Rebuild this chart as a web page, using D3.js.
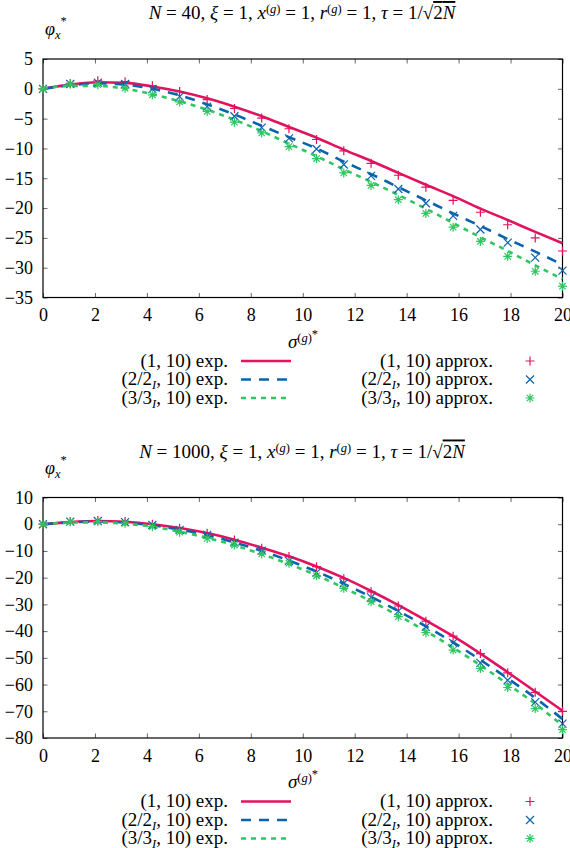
<!DOCTYPE html>
<html>
<head>
<meta charset="utf-8">
<script src="https://cdn.jsdelivr.net/npm/d3@7"></script>
<style>
  body { margin: 0; background: #fff; }
  svg text { font-family: "Liberation Serif", serif; font-size: 18px; fill: #000; }
  svg text.big { font-size: 19px; }
</style>
</head>
<body>
<svg id="chart" width="570" height="848"></svg>
<script>
// x positions of the samples (sigma^(g)*)
const sigmaValues = [0, 1.05, 2.11, 3.16, 4.21, 5.26, 6.32, 7.37, 8.42, 9.47,
  10.53, 11.58, 12.63, 13.68, 14.74, 15.79, 16.84, 17.89, 18.95, 20];
const xTicks = [0, 2, 4, 6, 8, 10, 12, 14, 16, 18, 20];

// N = 40
const n40YTicks = [5, 0, -5, -10, -15, -20, -25, -30, -35];
const n40Exp1 = [0, 0.7, 1.1, 1.0, 0.4, -0.45, -1.6, -3.0, -4.6, -6.4, -8.2, -10.2, -12.1, -14.1, -16.1, -18.0, -20.1, -22.0, -24.0, -25.9];
const n40Exp2 = [0, 0.6, 0.9, 0.7, 0.0, -1.1, -2.6, -4.3, -6.2, -8.1, -10.0, -12.2, -14.3, -16.5, -18.7, -20.9, -23.0, -25.2, -27.3, -29.5];
const n40Exp3 = [0, 0.5, 0.5, 0.0, -0.9, -2.1, -3.5, -5.2, -7.1, -9.2, -11.3, -13.5, -15.6, -17.8, -20.1, -22.5, -24.9, -27.2, -29.6, -31.9];
const n40Approx1 = [0, 0.9, 1.35, 1.2, 0.5, -0.45, -1.8, -3.3, -4.9, -6.7, -8.5, -10.4, -12.5, -14.5, -16.5, -18.7, -20.7, -22.8, -25.0, -27.2];
const n40Approx2 = [0, 0.8, 1.05, 0.8, -0.05, -1.3, -3.0, -4.6, -6.5, -8.3, -10.1, -12.7, -14.6, -16.8, -19.2, -21.3, -23.6, -25.8, -28.3, -30.5];
const n40Approx3 = [0, 0.8, 0.7, 0.1, -1.0, -2.2, -3.8, -5.6, -7.4, -9.7, -11.7, -14.1, -16.2, -18.6, -20.9, -23.2, -25.6, -28.1, -30.6, -33.1];

// N = 1000
const n1000YTicks = [10, 0, -10, -20, -30, -40, -50, -60, -70, -80];
const n1000Exp1 = [0, 0.8, 1.2, 0.9, 0.0, -1.4, -3.3, -5.8, -8.8, -12.0, -15.8, -20.1, -25.0, -30.3, -36.0, -41.9, -48.4, -55.4, -62.6, -69.8];
const n1000Exp2 = [0, 0.7, 1.0, 0.6, -0.4, -2.0, -4.1, -6.8, -10.0, -13.6, -17.7, -22.3, -27.2, -32.5, -38.2, -44.2, -50.8, -57.7, -65.0, -72.9];
const n1000Exp3 = [0, 0.6, 0.7, 0.2, -0.9, -2.8, -5.1, -7.9, -11.2, -14.9, -19.1, -23.8, -28.8, -34.2, -40.0, -46.2, -52.8, -59.8, -67.2, -75.3];
const n1000Approx1 = [0, 1.0, 1.4, 1.0, 0.0, -1.5, -3.4, -5.9, -9.0, -12.1, -15.9, -20.4, -25.3, -30.6, -36.3, -41.9, -48.4, -55.6, -62.9, -70.0];
const n1000Approx2 = [0, 1.0, 1.2, 0.8, -0.3, -2.1, -4.0, -6.9, -9.9, -13.7, -18.1, -22.1, -27.4, -32.5, -38.4, -44.4, -51.9, -58.4, -66.6, -74.6];
const n1000Approx3 = [0, 0.9, 1.0, 0.4, -0.9, -3.0, -5.3, -7.8, -11.1, -14.6, -19.3, -24.0, -29.0, -34.6, -40.6, -47.1, -54.0, -61.1, -69.0, -76.9];

const colors = ['#e2125e', '#0b63ad', '#2fc55f'];
const dashes = [null, '10,8', '5,5'];

// legend labels, as [text, flags]: i italic, ^ sup, _ sub
const expLabels = [
  [['(1, 10) exp.', '']],
  [['(2/2', ''], ['I', '_i'], [', 10) exp.', '']],
  [['(3/3', ''], ['I', '_i'], [', 10) exp.', '']]
];
const approxLabels = [
  [['(1, 10) approx.', '']],
  [['(2/2', ''], ['I', '_i'], [', 10) approx.', '']],
  [['(3/3', ''], ['I', '_i'], [', 10) approx.', '']]
];
function titleParts(n) {
  return [['N', 'i'], [' = ' + n + ', ', ''], ['ξ', 'i'], [' = 1, ', ''],
    ['x', 'i'], ['(', '^'], ['g', '^i'], [')', '^'], [' = 1, ', ''],
    ['r', 'i'], ['(', '^'], ['g', '^i'], [')', '^'], [' = 1, ', ''],
    ['τ', 'i'], [' = 1/√', ''], ['2', 'o'], ['N', 'io']];
}

const panels = [
  { top: 59, bottom: 297.5, domain: [-35, 5], yTicks: n40YTicks, title: titleParts(40),
    exp: [n40Exp1, n40Exp2, n40Exp3], approx: [n40Approx1, n40Approx2, n40Approx3] },
  { top: 497.5, bottom: 738, domain: [-80, 10], yTicks: n1000YTicks, title: titleParts(1000),
    exp: [n1000Exp1, n1000Exp2, n1000Exp3], approx: [n1000Approx1, n1000Approx2, n1000Approx3] }
];

const svg = d3.select('#chart');
const left = 43, right = 562.5;

function addMath(text, parts) {
  let shift = 0;
  parts.forEach(([str, f]) => {
    const ts = text.append('tspan').text(str);
    let target = 0;
    if (f.includes('^')) target = -6;
    if (f.includes('_')) target = 4;
    if (f.includes('h')) target = -10;
    if (target !== 0) ts.style('font-size', '12.5px');
    if (f.includes('i')) ts.attr('font-style', 'italic');
    if (f.includes('o')) ts.style('text-decoration', 'overline');
    if (target !== shift) ts.attr('dy', target - shift);
    shift = target;
  });
}

const markers = [
  'M-4.5,0H4.5M0,-4.5V4.5',
  'M-4,-4L4,4M-4,4L4,-4',
  'M-4.5,0H4.5M0,-4.5V4.5M-3.2,-3.2L3.2,3.2M-3.2,3.2L3.2,-3.2'
];

panels.forEach((p, k) => {
  const g = svg.append('g');
  const x = d3.scaleLinear().domain([0, 20]).range([left, right]);
  const y = d3.scaleLinear().domain(p.domain).range([p.bottom, p.top]);

  // title and y label
  addMath(g.append('text').attr('class', 'big').attr('x', 302).attr('y', p.top - 40).attr('text-anchor', 'middle'), p.title);
  addMath(g.append('text').attr('x', 45).attr('y', p.top - 24),
    [['φ', 'i'], ['x', '_i'], ['*', 'h']]);

  // axes (ticks inward, mirrored)
  const tickColor = '#666';
  const axes = [
    g.append('g').attr('transform', `translate(0,${p.bottom})`)
      .call(d3.axisBottom(x).tickValues(xTicks).tickSize(-4.5).tickSizeOuter(0).tickPadding(11).tickFormat(d3.format('d'))),
    g.append('g').attr('transform', `translate(0,${p.top})`)
      .call(d3.axisTop(x).tickValues(xTicks).tickSize(-4.5).tickSizeOuter(0).tickFormat('')),
    g.append('g').attr('transform', `translate(${left},0)`)
      .call(d3.axisLeft(y).tickValues(p.yTicks).tickSize(-4.5).tickSizeOuter(0).tickPadding(10)),
    g.append('g').attr('transform', `translate(${right},0)`)
      .call(d3.axisRight(y).tickValues(p.yTicks).tickSize(-4.5).tickSizeOuter(0).tickFormat(''))
  ];
  axes.forEach(a => {
    a.select('.domain').remove();
    a.selectAll('line').attr('stroke', tickColor);
    a.selectAll('text').attr('font-family', null).attr('font-size', null).attr('fill', '#000');
  });

  g.append('rect').attr('x', left).attr('y', p.top)
    .attr('width', right - left).attr('height', p.bottom - p.top)
    .attr('fill', 'none').attr('stroke', '#000').attr('stroke-width', 1.2);

  // x label
  addMath(g.append('text').attr('class', 'big').attr('x', 303).attr('y', p.bottom + 50).attr('text-anchor', 'middle'),
    [['σ', 'i'], ['(', '^'], ['g', '^i'], [')', '^'], ['*', 'h']]);

  // curves
  const line = d3.line().x((d, i) => x(sigmaValues[i])).y(d => y(d)).curve(d3.curveMonotoneX);
  p.exp.forEach((vals, s) => {
    g.append('path').datum(vals).attr('d', line)
      .attr('fill', 'none').attr('stroke', colors[s]).attr('stroke-width', 2.6)
      .attr('stroke-dasharray', dashes[s]);
  });
  p.approx.forEach((vals, s) => {
    g.append('g').selectAll('path').data(vals).join('path')
      .attr('transform', (d, i) => `translate(${x(sigmaValues[i])},${y(d)})`)
      .attr('d', markers[s]).attr('fill', 'none')
      .attr('stroke', colors[s]).attr('stroke-width', 1.2);
  });

  // legend
  const rowY = [p.bottom + 63.5, p.bottom + 82, p.bottom + 100.5];
  expLabels.forEach((lab, s) => {
    addMath(g.append('text').attr('class', 'big').attr('x', 228).attr('y', rowY[s] + 5.5).attr('text-anchor', 'end'), lab);
    g.append('line').attr('x1', 241).attr('x2', 291).attr('y1', rowY[s]).attr('y2', rowY[s])
      .attr('stroke', colors[s]).attr('stroke-width', 2.6).attr('stroke-dasharray', dashes[s]);
  });
  approxLabels.forEach((lab, s) => {
    addMath(g.append('text').attr('class', 'big').attr('x', 493).attr('y', rowY[s] + 5.5).attr('text-anchor', 'end'), lab);
    g.append('path').attr('transform', `translate(530,${rowY[s]})`).attr('d', markers[s])
      .attr('fill', 'none').attr('stroke', colors[s]).attr('stroke-width', 1.2);
  });
});
</script>
</body>
</html>
